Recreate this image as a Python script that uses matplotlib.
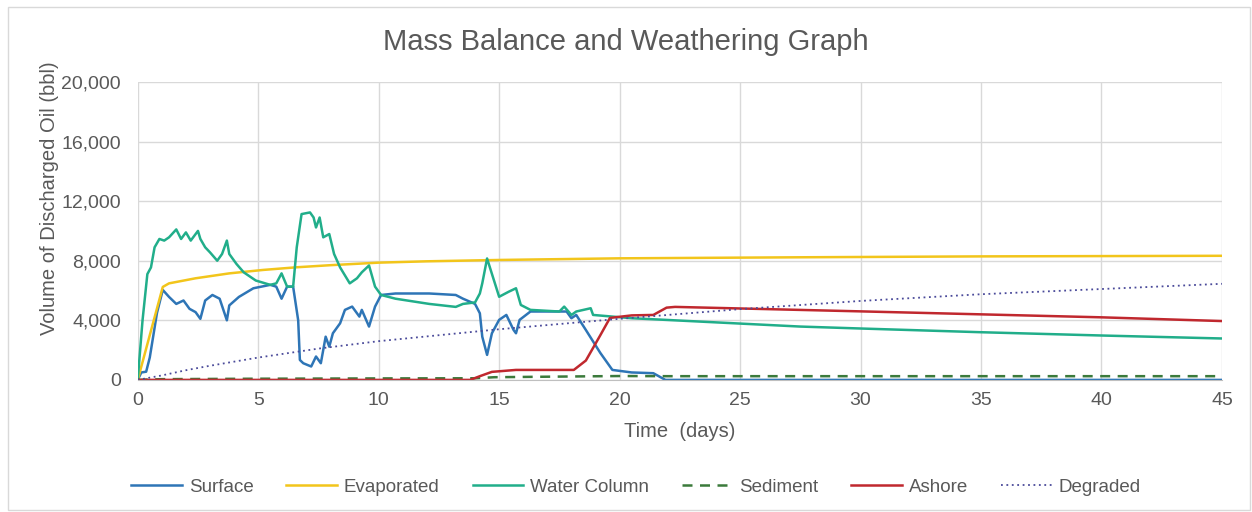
import matplotlib.pyplot as plt
import matplotlib.patches as patches
from matplotlib.ticker import FuncFormatter

plt.rcParams['font.family'] = ['Liberation Sans', 'DejaVu Sans']

# Surface
surf_t = [0, 0.15, 0.35, 0.5, 0.8, 1.04, 1.3, 1.6, 1.9, 2.15, 2.4, 2.6, 2.8, 3.1, 3.4, 3.7, 3.8,
          4.2, 4.8, 5.5, 5.75, 5.97, 6.2, 6.45, 6.66, 6.73, 6.87, 7.2, 7.4, 7.6, 7.8, 7.95, 8.1,
          8.4, 8.6, 8.9, 9.2, 9.3, 9.6, 9.85, 10.1, 10.7, 12.1, 13.2, 13.5, 14.0, 14.2, 14.3,
          14.5, 14.7, 15.0, 15.3, 15.6, 15.7, 15.85, 16.3, 17.8, 18.0, 18.2, 18.6, 19.2, 19.7,
          20.5, 21.4, 21.9, 25, 30, 35, 40, 45]
surf_v = [0, 500, 550, 1500, 4500, 6040, 5570, 5100, 5330, 4770, 4550, 4100, 5330, 5700, 5450,
          4000, 5000, 5570, 6150, 6380, 6260, 5450, 6260, 6260, 4000, 1340, 1120, 900, 1570, 1120,
          2900, 2230, 3130, 3800, 4700, 4920, 4250, 4700, 3580, 4920, 5700, 5800, 5800, 5700,
          5450, 5100, 4470, 2900, 1680, 3130, 4030, 4360, 3350, 3130, 4030, 4590, 4590, 4140,
          4360, 3350, 1810, 670, 500, 450, 0, 0, 0, 0, 0, 0]

# Evaporated
evap_t = [0, 1.04, 1.3, 2.4, 3.8, 5.2, 6.6, 8, 10, 12, 15, 20, 27.5, 35, 45]
evap_v = [0, 6240, 6480, 6820, 7150, 7380, 7560, 7700, 7870, 7960, 8050, 8160, 8230, 8290, 8330]

# Water Column
wc_t = [0, 0.2, 0.4, 0.55, 0.7, 0.9, 1.1, 1.3, 1.6, 1.8, 2.0, 2.2, 2.5, 2.6, 2.8, 3.0, 3.3, 3.5,
        3.7, 3.8, 4.1, 4.4, 4.9, 5.5, 5.75, 5.97, 6.2, 6.45, 6.6, 6.8, 7.15, 7.3, 7.4, 7.55, 7.7,
        7.95, 8.15, 8.4, 8.8, 9.1, 9.3, 9.6, 9.85, 10.1, 10.7, 12.1, 13.2, 13.5, 14.0, 14.2,
        14.3, 14.5, 14.7, 15.0, 15.4, 15.7, 15.9, 16.3, 17.5, 17.7, 18.0, 18.2, 18.8, 18.9,
        19.7, 20.5, 21.9, 27.5, 30, 35, 40, 45]
wc_v = [0, 4000, 7100, 7550, 8900, 9460, 9350, 9570, 10100, 9460, 9900, 9350, 10000, 9460, 8900,
        8560, 8000, 8450, 9350, 8450, 7780, 7220, 6670, 6380, 6480, 7150, 6260, 6260, 8900,
        11130, 11240, 10900, 10230, 10900, 9570, 9790, 8450, 7550, 6480, 6820, 7220, 7680,
        6260, 5700, 5450, 5100, 4900, 5100, 5200, 5800, 6480, 8150, 7120, 5580, 5920, 6150,
        5030, 4700, 4590, 4920, 4360, 4590, 4810, 4360, 4250, 4140, 4030, 3580, 3450, 3200,
        2980, 2780]

# Sediment
sed_t = [0, 0.5, 1, 5, 10, 14, 14.8, 16, 20, 22, 45]
sed_v = [0, 30, 50, 80, 100, 110, 180, 200, 260, 250, 250]

# Ashore
ash_t = [0, 13.8, 14.2, 14.7, 15.7, 18.1, 18.6, 19.2, 19.6, 20.5, 21.4, 21.95, 22.3, 30, 40, 45]
ash_v = [0, 0, 250, 540, 670, 670, 1300, 3000, 4160, 4330, 4360, 4850, 4900, 4600, 4200, 3950]

# Degraded
deg_t = [0, 1, 2, 3, 5, 7.5, 10, 12.5, 15, 17.5, 20, 25, 30, 35, 40, 45]
deg_v = [0, 300, 650, 950, 1500, 2100, 2600, 3000, 3400, 3750, 4100, 4750, 5300, 5750, 6100, 6450]

gray = '#595959'

fig = plt.figure(figsize=(12.52, 5.12), dpi=100)
ax = fig.add_axes([0.110, 0.258, 0.866, 0.582])

ax.plot(surf_t, surf_v, color='#2E75B6', lw=1.8, label='Surface')
ax.plot(evap_t, evap_v, color='#F2C51B', lw=1.8, label='Evaporated')
ax.plot(wc_t, wc_v, color='#21AE8A', lw=1.8, label='Water Column')
ax.plot(sed_t, sed_v, color='#3B7A3B', lw=1.8, ls=(0, (4, 3)), label='Sediment')
ax.plot(ash_t, ash_v, color='#C0282E', lw=1.8, label='Ashore')
ax.plot(deg_t, deg_v, color='#4A4A9A', lw=1.3, ls=(0, (1, 2)), label='Degraded')

ax.set_xlim(0, 45)
ax.set_ylim(0, 20000)
ax.set_xticks(range(0, 46, 5))
ax.set_yticks(range(0, 20001, 4000))
ax.yaxis.set_major_formatter(FuncFormatter(lambda v, p: f'{int(v):,}'))
ax.grid(True, color='#D9D9D9', lw=1)
ax.set_axisbelow(True)
for s in ['top', 'right', 'left']:
    ax.spines[s].set_visible(False)
ax.spines['bottom'].set_color('#BFBFBF')
ax.tick_params(length=0, labelsize=14, colors=gray)
ax.tick_params(axis='y', pad=12)
ax.tick_params(axis='x', pad=9)

ax.set_xlabel('Time  (days)', fontsize=14.5, color=gray, labelpad=9)
ax.set_ylabel('Volume of Discharged Oil (bbl)', fontsize=14.5, color=gray)
ax.yaxis.set_label_coords(-0.073, 0.61)
fig.text(0.5, 0.918, 'Mass Balance and Weathering Graph', ha='center', va='center',
         fontsize=21, color=gray)

fig.legend(loc='center', bbox_to_anchor=(0.508, 0.048), ncol=6, frameon=False,
           fontsize=13.5, labelcolor=gray, handlelength=2.7, columnspacing=1.75,
           handletextpad=0.37)

fig.add_artist(patches.Rectangle((8 / 1252, 2 / 512), 1242 / 1252, 503 / 512,
                                 transform=fig.transFigure, fill=False, ec='#D9D9D9', lw=1))

fig.savefig('out.png', dpi=100)
